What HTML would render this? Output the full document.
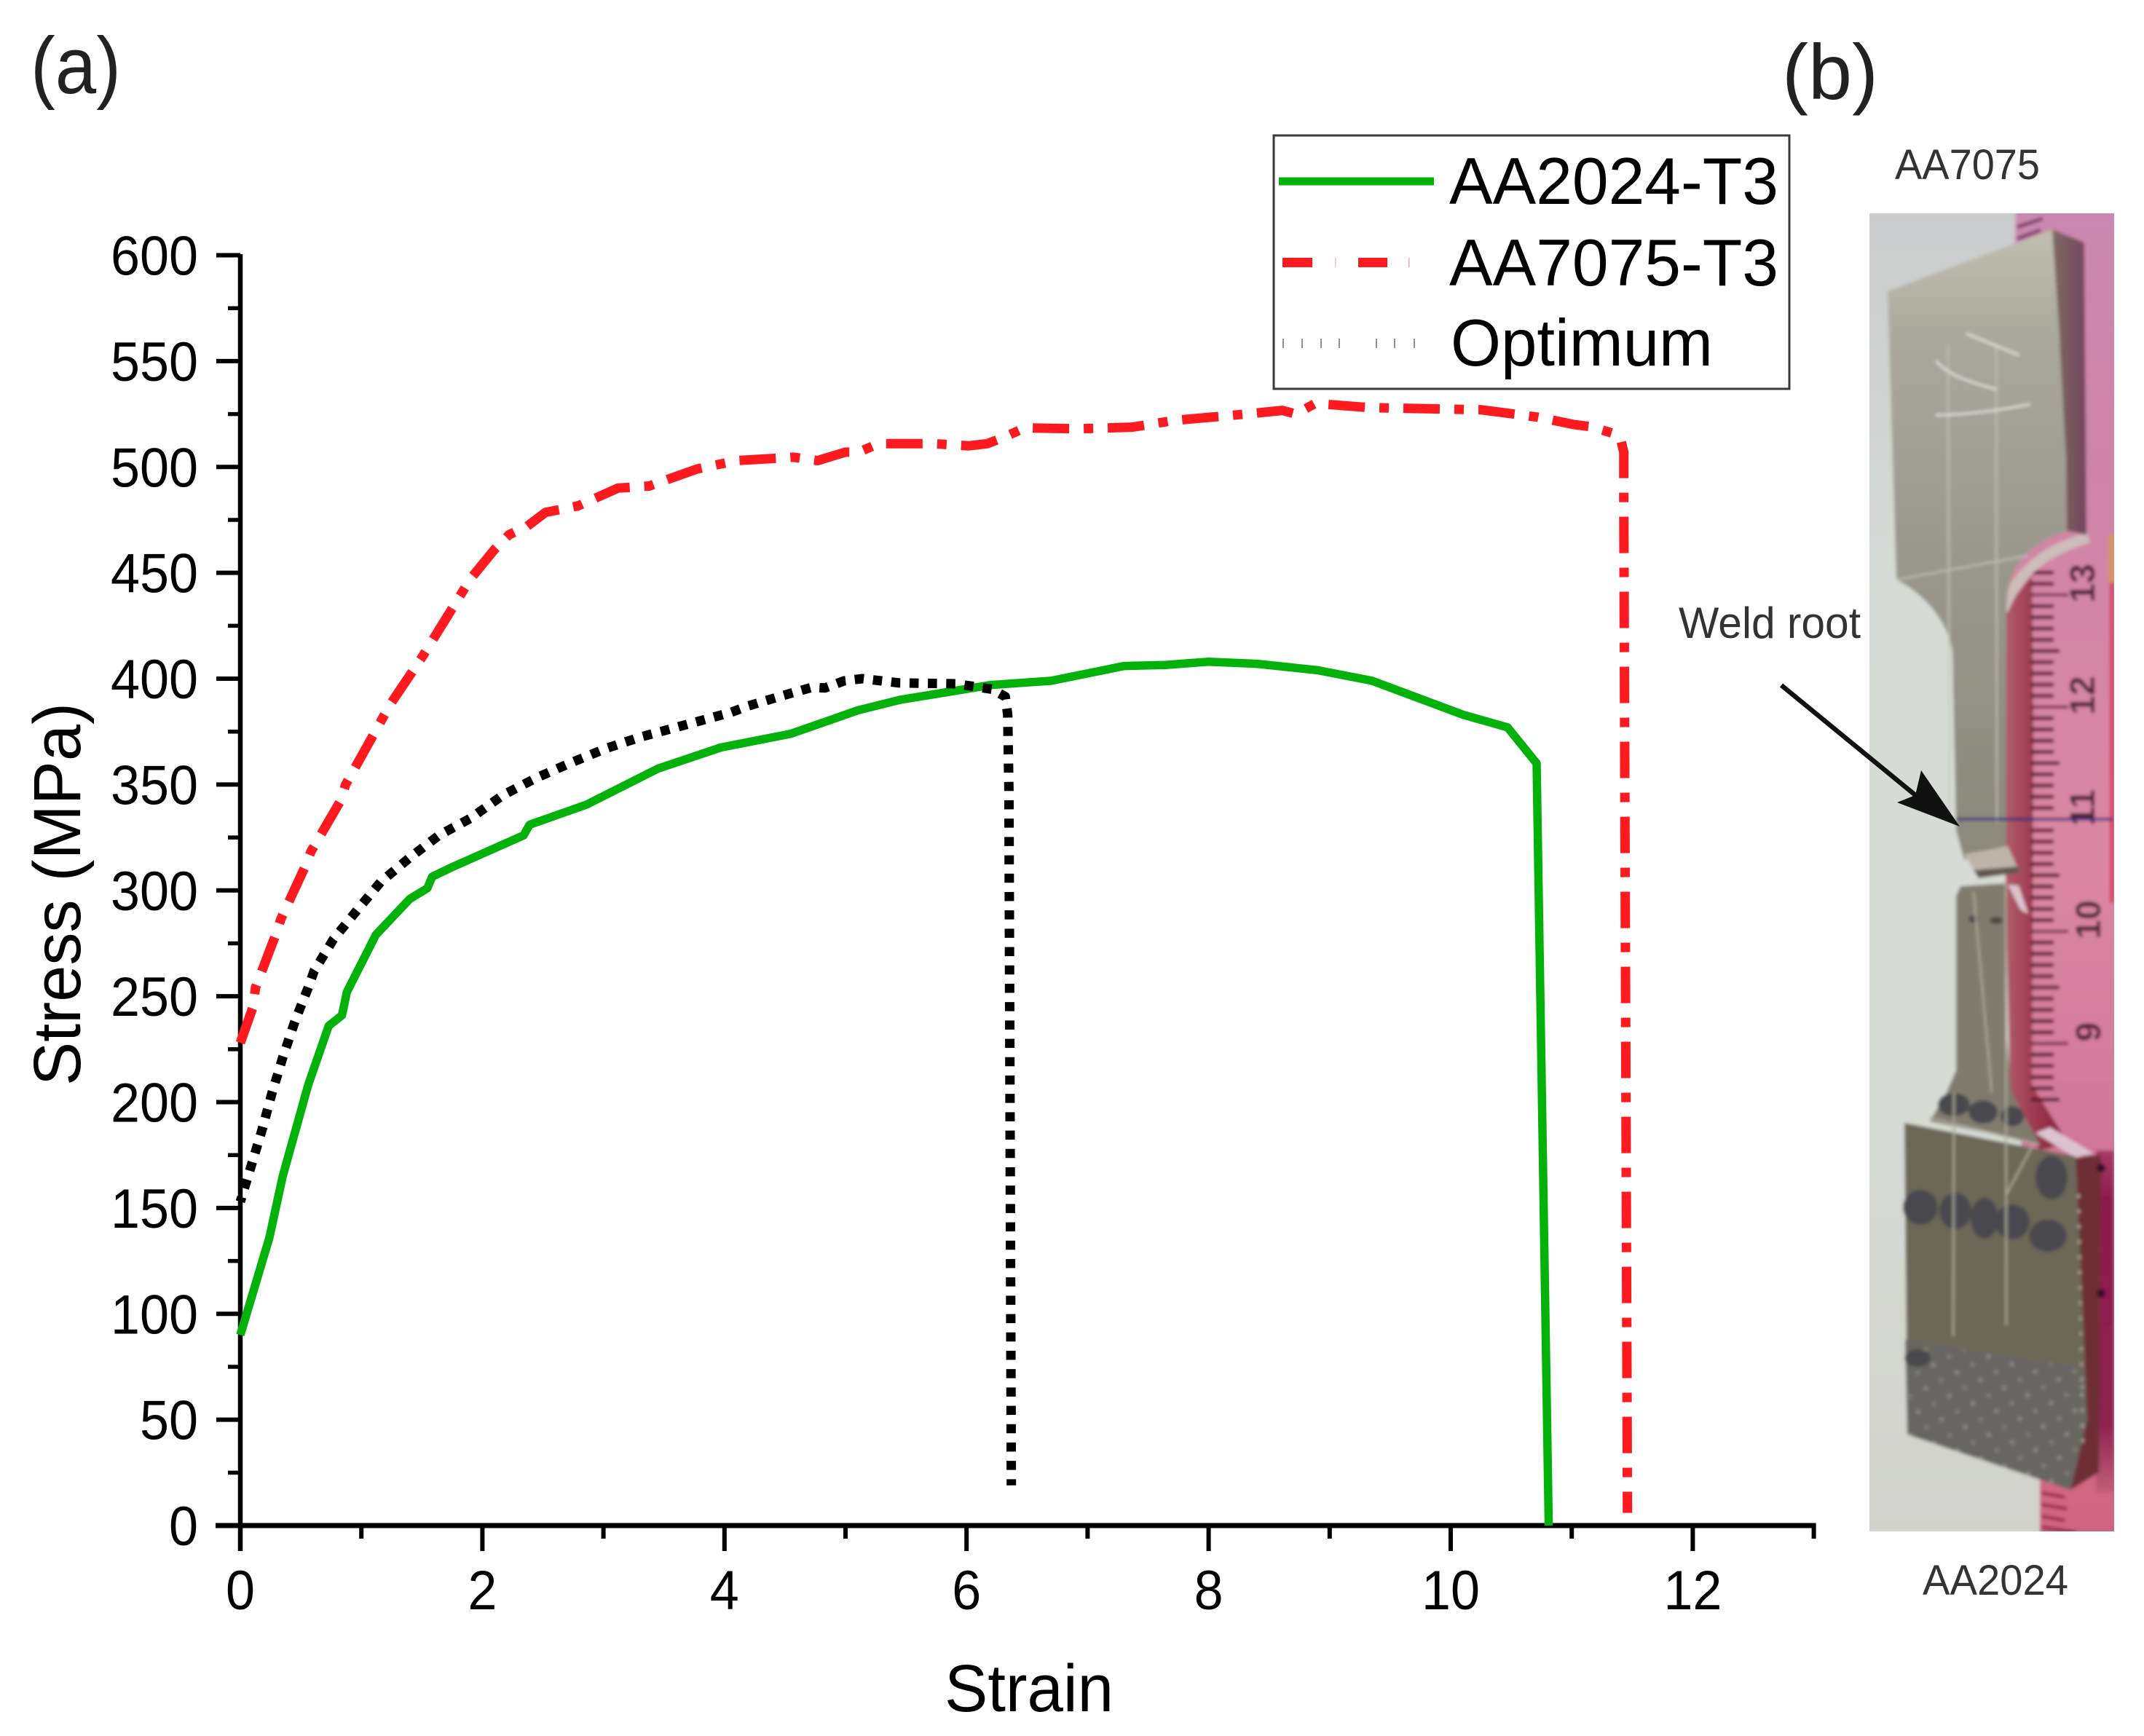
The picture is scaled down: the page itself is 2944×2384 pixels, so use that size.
<!DOCTYPE html>
<html lang="en">
<head>
<meta charset="utf-8">
<title>Stress-strain curves and weld specimen</title>
<style>
html,body{margin:0;padding:0;background:#fff;width:2944px;height:2384px;overflow:hidden}
svg{display:block}
text{font-family:"Liberation Sans",Arial,sans-serif}
</style>
</head>
<body>
<svg id="fig" xmlns="http://www.w3.org/2000/svg" width="2944" height="2384" viewBox="0 0 2944 2384">
<defs>
<linearGradient id="bgG" x1="0" y1="0" x2="0" y2="1"><stop offset="0" stop-color="#cbcccd"/><stop offset=".3" stop-color="#d6dbd7"/><stop offset=".7" stop-color="#d6dad4"/><stop offset="1" stop-color="#d2d2cd"/></linearGradient>
<linearGradient id="rulerG" x1="0" y1="0" x2="0" y2="1"><stop offset="0" stop-color="#ca88b0"/><stop offset=".2" stop-color="#cf84a6"/><stop offset=".5" stop-color="#da87a3"/><stop offset=".75" stop-color="#cf7396"/><stop offset="1" stop-color="#cf6480"/></linearGradient>
<linearGradient id="bandG" x1="0" y1="0" x2="1" y2="0"><stop offset="0" stop-color="#b05a6a"/><stop offset="1" stop-color="#851636"/></linearGradient>
<linearGradient id="upG" gradientUnits="userSpaceOnUse" x1="0" y1="315" x2="0" y2="1170"><stop offset="0" stop-color="#bfbeaf"/><stop offset=".2" stop-color="#a8a69a"/><stop offset=".55" stop-color="#99978b"/><stop offset="1" stop-color="#8b887c"/></linearGradient>
<linearGradient id="sideG" x1="0" y1="0" x2="1" y2="0"><stop offset="0" stop-color="#7d6a64"/><stop offset="1" stop-color="#72465c"/></linearGradient>
<linearGradient id="crimG" x1="0" y1="0" x2="0" y2="1"><stop offset="0" stop-color="#a83a66"/><stop offset=".15" stop-color="#8a1c48"/><stop offset=".8" stop-color="#8e2250"/><stop offset="1" stop-color="#c0607a"/></linearGradient>
<pattern id="dots" width="34" height="34" patternUnits="userSpaceOnUse" patternTransform="rotate(18)"><rect width="34" height="34" fill="#676664"/><circle cx="10" cy="10" r="3" fill="#8d8c86"/><circle cx="27" cy="27" r="3" fill="#82817d"/></pattern>
<filter id="soft" x="-2%" y="-2%" width="104%" height="104%"><feGaussianBlur stdDeviation="2.5"/></filter>
<clipPath id="photoClip"><rect x="2567" y="293" width="336" height="1810"/></clipPath>
</defs>

<rect width="2944" height="2384" fill="#ffffff"/>

<g id="axes"></g>
<g id="series"></g>

<text x="1297" y="2350" font-size="92" textLength="232" lengthAdjust="spacingAndGlyphs" fill="#000">Strain</text>
<text transform="translate(110,1228) rotate(-90)" font-size="92" text-anchor="middle" textLength="526" lengthAdjust="spacingAndGlyphs" fill="#000">Stress (MPa)</text>
<text x="42" y="128" font-size="110" textLength="124" lengthAdjust="spacingAndGlyphs" fill="#222">(a)</text>
<text x="2447" y="136" font-size="108" textLength="132" lengthAdjust="spacingAndGlyphs" fill="#222">(b)</text>

<g>
<rect x="1749" y="186" width="708" height="348" fill="#fff" stroke="#3a3a3a" stroke-width="3"/>
<line x1="1756" y1="249" x2="1969" y2="249" stroke="#02b10a" stroke-width="11"/>
<text x="1990" y="280" font-size="91" textLength="452" lengthAdjust="spacingAndGlyphs" fill="#000">AA2024-T3</text>
<g fill="#ff1a1f">
<rect x="1761" y="354" width="41" height="13"/><rect x="1865" y="354" width="40" height="13"/>
<rect x="1833" y="354" width="1.5" height="13" opacity=".3"/><rect x="1934" y="354" width="1.5" height="13" opacity=".4"/>
</g>
<text x="1990" y="392" font-size="91" textLength="452" lengthAdjust="spacingAndGlyphs" fill="#000">AA7075-T3</text>
<path d="M1762 465V478M1788 465V478M1814 465V478M1839 465V478M1890 465V478M1915 465V478M1942 465V478" stroke="#777" stroke-width="1.6" fill="none"/>
<text x="1992" y="502" font-size="91" textLength="360" lengthAdjust="spacingAndGlyphs" fill="#000">Optimum</text>
</g>

<text x="2602" y="246" font-size="58" textLength="199" lengthAdjust="spacingAndGlyphs" fill="#333">AA7075</text>
<text x="2640" y="2190" font-size="58" textLength="200" lengthAdjust="spacingAndGlyphs" fill="#333">AA2024</text>
<text x="2305" y="876" font-size="60" textLength="250" lengthAdjust="spacingAndGlyphs" fill="#333">Weld root</text>

<g clip-path="url(#photoClip)">
<g filter="url(#soft)">
<rect x="2560" y="285" width="350" height="1830" fill="url(#bgG)"/>
<polygon points="2768,285 2910,285 2910,2110 2801,2110 2801,2030 2775,1560 2754,1240 2754,800" fill="url(#rulerG)"/>
<polygon points="2897,800 2903,800 2903,1240 2897,1240" fill="#d8405f"/>
<rect x="2896" y="735" width="7" height="65" fill="#d89a50"/>
<polygon points="2755,835 2790,790 2792,1000 2790,1490 2840,1570 2800,1580 2760,1500 2754,1230" fill="url(#bandG)"/>
<g id="rulerTicks"></g>
<path d="M2770 312L2805 300M2770 328L2802 316" stroke="#7c3a68" stroke-width="5" fill="none"/>
<path d="M2803 2050L2835 2056M2803 2066L2838 2072M2803 2082L2835 2088M2803 2097L2850 2104" stroke="#8a1c40" stroke-width="4" fill="none"/>

<path d="M2750 838C2770 790 2800 758 2868 738" stroke="#cdbcbc" stroke-width="15" fill="none"/>
<polygon points="2818,315 2862,333 2865,735 2836,728" fill="url(#sideG)"/>
<path d="M2592 400L2818 315L2827 447L2837 630L2838 730C2810 738 2780 755 2765 785C2758 800 2755 820 2755 840L2755 1165L2697 1180L2686 1140L2681 895C2676 860 2650 820 2604 796Z" fill="url(#upG)"/>
<path d="M2604 796L2785 763M2675 474L2677 1130M2741 474L2742 1130" stroke="#c4c5ba" stroke-width="2" fill="none"/>
<path d="M2700 458L2773 488M2658 495C2680 520 2710 525 2742 535M2658 570C2690 570 2740 565 2788 555" stroke="#dededa" stroke-width="3" fill="none"/>
<polygon points="2697,1173 2757,1162 2773,1197 2717,1205" fill="#bdb5a9"/>
<polygon points="2710,1195 2770,1190 2773,1198 2717,1206" fill="#5d5750"/>
<line x1="2686" y1="1125" x2="2903" y2="1125" stroke="#2b2c74" stroke-width="3.5"/>

<path d="M2692 1217L2753 1213L2755 1420L2762 1500L2800 1570L2650 1540L2673 1500L2686 1470L2686 1230Z" fill="#7f7b6e"/>
<polygon points="2757,1215 2772,1216 2785,1255 2775,1250" fill="#dcc4cc"/>
<rect x="2878" y="1580" width="25" height="470" fill="url(#crimG)"/>
<polygon points="2850,1588 2885,1586 2882,2022 2843,2046" fill="#6e2e34"/>
<polygon points="2795,1556 2815,1548 2875,1584 2850,1590" fill="#dcc3d0"/>
<polygon points="2615,1542 2850,1588 2860,1800 2866,1950 2843,2046 2619,1970" fill="#6c6859"/>
<polygon points="2616,1840 2862,1880 2866,1950 2843,2046 2619,1970" fill="url(#dots)"/>
<g fill="#4a4a4d">
<ellipse cx="2637" cy="1658" rx="24" ry="24"/><ellipse cx="2685" cy="1663" rx="22" ry="25"/><ellipse cx="2725" cy="1673" rx="19" ry="28"/><ellipse cx="2763" cy="1678" rx="24" ry="24"/><ellipse cx="2812" cy="1697" rx="26" ry="22"/><ellipse cx="2817" cy="1617" rx="22" ry="30"/>
<ellipse cx="2683" cy="1517" rx="22" ry="16"/><ellipse cx="2723" cy="1527" rx="20" ry="16"/><ellipse cx="2763" cy="1533" rx="16" ry="14"/><ellipse cx="2633" cy="1865" rx="18" ry="12"/>
<ellipse cx="2710" cy="1262" rx="7" ry="5"/><ellipse cx="2741" cy="1264" rx="9" ry="5"/>
</g>
<path d="M2683 1500L2682 1835M2754 1215L2755 1820M2650 1535L2800 1572M2790 1575L2755 1640M2710 1225L2735 1500" stroke="#aeaa9a" stroke-width="2.5" fill="none"/>
<path d="M2854 1640L2860 1990" stroke="#a49f8e" stroke-width="4" stroke-dasharray="5 16" fill="none"/>
<circle cx="2885" cy="1604" r="6" fill="#3a0a2a"/>
<circle cx="2885" cy="1776" r="6" fill="#3a0a2a"/>
</g>
</g>

<g>
<line x1="2446" y1="941" x2="2635" y2="1096" stroke="#111" stroke-width="6.5"/>
<polygon points="2691,1135 2638,1058 2630,1092 2605,1102" fill="#111"/>
</g>

<script>
const yMajorTicks = [0,50,100,150,200,250,300,350,400,450,500,550,600];
const yMinorTicks = [25,75,125,175,225,275,325,375,425,475,525,575];
const xMajorTicks = [0,2,4,6,8,10,12];
const xMinorTicks = [1,3,5,7,9,11,13];
const aa2024Strain = [0,0.24,0.35,0.56,0.73,0.84,0.88,1.12,1.4,1.545,1.585,1.75,2.34,2.39,2.86,3.45,3.97,4.55,4.8,5.1,5.45,6.2,6.7,7.3,7.65,8,8.4,8.9,9.35,10.1,10.47,10.71,10.81];
const aa2024Stress = [90,136,165,208,236,241,252,279,296,301,306.5,311,326,331,340.5,357.5,367.5,374,379,385,390,397,399,406,406.5,408,407,404,399,383,377,360,0];
const aa7075Strain = [0,0.105,0.125,0.285,0.335,0.53,0.585,0.825,0.87,1.1,1.24,1.5,1.9,2.1,2.22,2.37,2.52,2.79,3.12,3.38,3.77,4.1,4.57,4.77,5.0,5.11,5.27,5.72,6.02,6.17,6.31,6.48,6.92,7.37,7.72,8.31,8.61,8.72,8.88,9.33,10.25,10.72,11.02,11.16,11.35,11.4,11.43,11.43,11.46];
const aa7075Stress = [228,245,254,278,286.5,310.6,318.5,342,350,373.5,388,410,447,461,468,472,478.5,481.6,490,491,499,503,504.6,503,507,507,511,511,510,511,514,518.5,518,518.8,522,525,526.7,525,530,528,527,523.5,520,519,515.7,514,507,483,6];
const optimumStrain = [0,0.09,0.18,0.26,0.35,0.45,0.56,0.61,0.77,0.97,1.16,1.39,1.64,1.9,2.17,2.44,2.72,3.02,3.31,3.6,4.05,4.19,4.48,4.73,4.83,4.99,5.14,5.44,5.91,6.21,6.32,6.34,6.35,6.37];
const optimumStress = [153,170,187,204,221,238,254,262,277,291,304,315,326,334,345,353,360,367,372.5,377,384,387,392,396,395.6,399,400,398,397.6,395,391.5,383,347,19];
const rulerNumbers = [13,12,11,10,9];

const NS = 'http://www.w3.org/2000/svg';
const xScale = v => 330 + v * 166.2;
const yScale = v => 2095 - v * 2.9075;

function make(tag, attrs, parent, txt) {
  const el = document.createElementNS(NS, tag);
  for (const k in attrs) el.setAttribute(k, attrs[k]);
  if (txt !== undefined) el.textContent = txt;
  parent.appendChild(el);
  return el;
}

const axes = document.getElementById('axes');
const series = document.getElementById('series');

const yAxisLine = make('line', {x1:330, y1:349, x2:330, y2:2130, stroke:'#000', 'stroke-width':6.5}, axes);


const xAxisLine = make('line', {x1:296, y1:2095, x2:xScale(13)+3, y2:2095, stroke:'#000', 'stroke-width':7}, axes);



yMajorTicks.forEach(v => {
  const t = make('line', {x1:297, y1:yScale(v), x2:330, y2:yScale(v), stroke:'#000', 'stroke-width':6}, axes);
  
  
  const s = String(v);
  const l = make('text', {x:272, y:yScale(v)+27, 'font-size':76, 'text-anchor':'end', textLength:s.length*40, lengthAdjust:'spacingAndGlyphs', fill:'#000'}, axes, s);
  
  
});
yMinorTicks.forEach(v => {
  const t = make('line', {x1:313, y1:yScale(v), x2:330, y2:yScale(v), stroke:'#000', 'stroke-width':5.5}, axes);
  
  
});
xMajorTicks.forEach(v => {
  const t = make('line', {x1:xScale(v), y1:2095, x2:xScale(v), y2:2130, stroke:'#000', 'stroke-width':6}, axes);
  
  
  const s = String(v);
  const l = make('text', {x:xScale(v), y:2210, 'font-size':76, 'text-anchor':'middle', textLength:s.length*40, lengthAdjust:'spacingAndGlyphs', fill:'#000'}, axes, s);
  
  
});
xMinorTicks.forEach(v => {
  const t = make('line', {x1:xScale(v), y1:2095, x2:xScale(v), y2:2113, stroke:'#000', 'stroke-width':6}, axes);
  
  
});

function pathFrom(xs, ys) {
  return xs.map((x, i) => (i ? 'L' : 'M') + xScale(x).toFixed(1) + ' ' + yScale(ys[i]).toFixed(1)).join('');
}

const greenLine = make('path', {d:pathFrom(aa2024Strain, aa2024Stress), fill:'none', stroke:'#02b10a', 'stroke-width':11.5, 'stroke-linejoin':'round'}, series);


const redLine = make('path', {d:pathFrom(aa7075Strain, aa7075Stress), fill:'none', stroke:'#ff1a1f', 'stroke-width':13, 'stroke-dasharray':'50 20 13 20', 'stroke-linejoin':'round'}, series);


const dotLine = make('path', {d:pathFrom(optimumStrain, optimumStress), fill:'none', stroke:'#000', 'stroke-width':13, 'stroke-dasharray':'12.5 12.7', 'stroke-dashoffset':6, 'stroke-linejoin':'round'}, series);



/* photo ruler graduations (decorative part of the photograph) */
const rulerG = document.getElementById('rulerTicks');
const rulerY = cm => 1125 + (11 - cm) * 154;
for (let mm = 85; mm <= 132; mm++) {
  const y = rulerY(mm / 10);
  const end = mm % 10 === 0 ? 2840 : (mm % 5 === 0 ? 2828 : 2820);
  const t = make('line', {x1:2788, y1:y, x2:end, y2:y, stroke:'#5e0c2a', 'stroke-width':mm % 10 === 0 ? 3.5 : 5}, rulerG);
  
  
}
rulerNumbers.forEach(n => {
  const y = rulerY(n) - 16;
  const x = n > 10 ? 2876 : 2884;
  const t = make('text', {transform:'translate(' + x + ',' + y + ') rotate(-90)', 'font-size':48, 'font-weight':'bold', 'text-anchor':'middle', fill:'#4e1a30'}, rulerG, String(n));
  
  
});
</script>
</svg>
</body>
</html>
